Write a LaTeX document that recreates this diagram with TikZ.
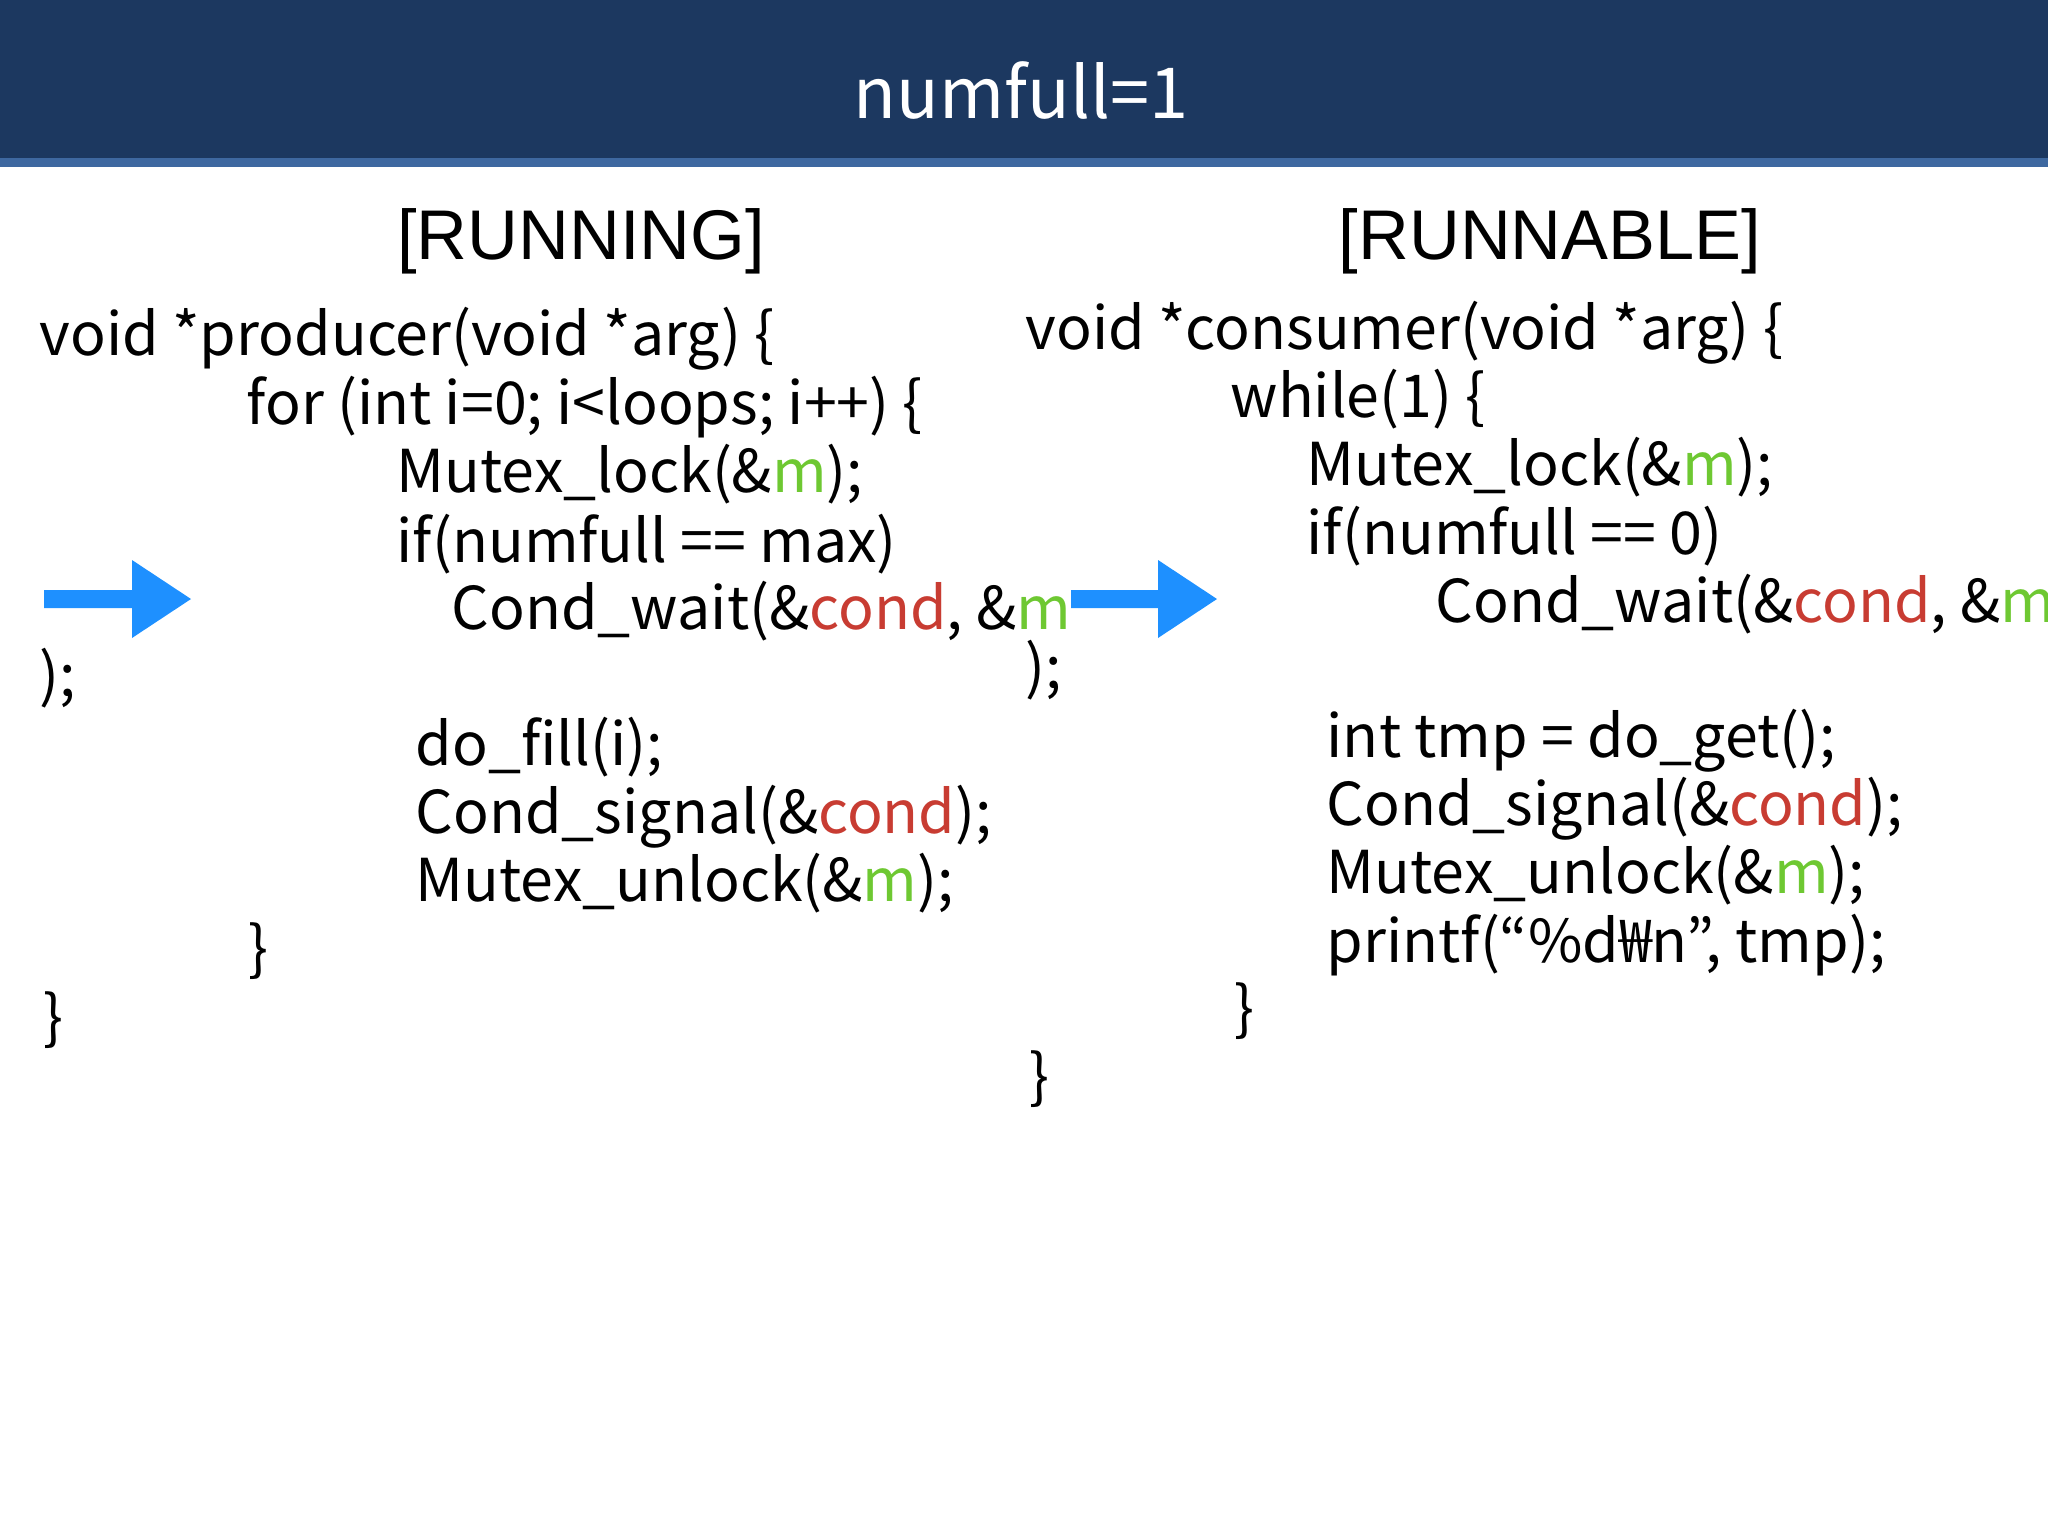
\documentclass[tikz,border=0pt]{standalone}
\usepackage{fontspec}
\setmainfont{Liberation Sans}
\newfontfamily\codefont{Noto Sans CJK KR}
\definecolor{navy}{RGB}{28,56,96}
\definecolor{strip}{RGB}{62,104,160}
\definecolor{arrowblue}{RGB}{30,144,255}
\definecolor{mgreen}{RGB}{110,200,50}
\definecolor{cred}{RGB}{200,60,50}
\newcommand{\mm}{\textcolor{mgreen}{m}}
\newcommand{\cc}{\textcolor{cred}{cond}}
\begin{document}
\begin{tikzpicture}[x=0.01cm,y=-0.01cm,
  code/.style={anchor=base west,inner sep=0pt,font=\fontsize{16.8}{20}\selectfont\codefont},
  head/.style={anchor=base,inner sep=0pt,font=\fontsize{20}{24}\selectfont},
  barrow/.style={fill=arrowblue,draw=none}]
\useasboundingbox (0,0) rectangle (2048,1536);
\fill[navy] (0,0) rectangle (2048,158);
\fill[strip] (0,158) rectangle (2048,167);
\node[anchor=base,inner sep=0pt,text=white,font=\fontsize{20}{24}\selectfont\codefont] (title) at (1021,118) {numfull=1};
\node[head] (h1) at (581,259) {[RUNNING]};
\node[head] (h2) at (1550,259) {[RUNNABLE]};
% left
\node[code] (l1) at (39,355) {void *producer(void *arg) \{};
\node[code] (l2) at (246,424) {for (int i=0; i<loops; i++) \{};
\node[code] (l3) at (396,492) {Mutex\_lock(\&\mm);};
\node[code] (l4) at (396,562) {if(numfull == max)};
\node[code] (l5) at (451,629) {Cond\_wait(\&\cc, \&\mm};
\node[code] (l6) at (39,696) {);};
\node[code] (l7) at (415,765) {do\_fill(i);};
\node[code] (l8) at (415,833) {Cond\_signal(\&\cc);};
\node[code] (l9) at (415,901) {Mutex\_unlock(\&\mm);};
\node[code] (l10) at (248,969) {\}};
\node[code] (l11) at (43,1038) {\}};
% right
\node[code] (r1) at (1025,349) {void *consumer(void *arg) \{};
\node[code] (r2) at (1230,417) {while(1) \{};
\node[code] (r3) at (1306,485) {Mutex\_lock(\&\mm);};
\node[code] (r4) at (1306,554) {if(numfull == 0)};
\node[code] (r5) at (1435,622) {Cond\_wait(\&\cc, \&\mm};
\node[code] (r6) at (1025,688) {);};
\node[code] (r7) at (1326,757) {int tmp = do\_get();};
\node[code] (r8) at (1326,825) {Cond\_signal(\&\cc);};
\node[code] (r9) at (1326,893) {Mutex\_unlock(\&\mm);};
\node[code] (r10) at (1326,962) {printf(“\%d₩n”, tmp);};
\node[code] (r11) at (1234,1029) {\}};
\node[code] (r12) at (1029,1097) {\}};
% arrows
\fill[barrow] (44,590) -- (132,590) -- (132,560) -- (191,599) -- (132,638) -- (132,608) -- (44,608) -- cycle;
\fill[barrow] (1071,590) -- (1158,590) -- (1158,560) -- (1217,599) -- (1158,638) -- (1158,608) -- (1071,608) -- cycle;
\end{tikzpicture}
\end{document}
